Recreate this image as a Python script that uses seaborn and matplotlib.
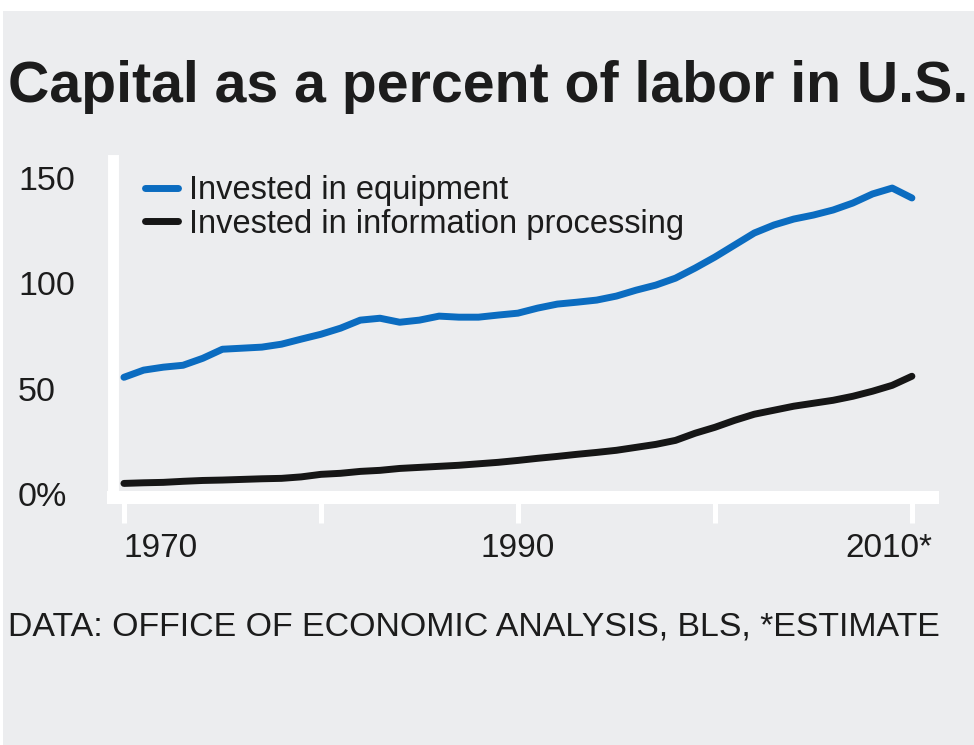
import matplotlib
matplotlib.use("Agg")
import matplotlib.pyplot as plt
import matplotlib.transforms as mtransforms
from matplotlib.patches import Rectangle
from matplotlib.lines import Line2D
import seaborn as sns
import pandas as pd

# ---- data -------------------------------------------------------------
years = list(range(1970, 2011))

equipment = [55.5, 58.9, 60.3, 61.2, 64.5, 68.8, 69.3, 69.8, 71.2, 73.6,
             75.9, 78.8, 82.6, 83.5, 81.6, 82.6, 84.5, 84.0, 84.0, 85.0,
             85.9, 88.3, 90.2, 91.1, 92.1, 94.0, 96.8, 99.2, 102.5, 107.3,
             112.5, 118.2, 123.9, 127.7, 130.5, 132.4, 134.8, 138.1, 142.4, 145.2,
             140.5]

info_processing = [5.2, 5.5, 5.7, 6.2, 6.6, 6.8, 7.1, 7.4, 7.6, 8.3,
                   9.5, 10.0, 10.9, 11.4, 12.3, 12.8, 13.3, 13.8, 14.5, 15.2,
                   16.1, 17.1, 18.0, 19.0, 19.9, 20.9, 22.3, 23.7, 25.6, 29.0,
                   31.8, 35.1, 38.0, 39.9, 41.8, 43.2, 44.6, 46.5, 48.9, 51.7,
                   56.0]

series_names = ["Invested in equipment", "Invested in information processing"]
series_colors = ["#0b6cc0", "#161616"]

x_ticks = [1970, 1980, 1990, 2000, 2010]
x_tick_labels = ["1970", "", "1990", "", "2010*"]
y_ticks = [0, 50, 100, 150]
y_tick_labels = ["0%", "50", "100", "150"]

title_text = "Capital as a percent of labor in U.S."
source_text = "DATA: OFFICE OF ECONOMIC ANALYSIS, BLS, *ESTIMATE"

# ---- styling ----------------------------------------------------------
BG = "#ecedef"
TEXT = "#1c1c1c"

sns.set_style("white")
plt.rcParams["font.family"] = ["Liberation Sans", "DejaVu Sans"]
plt.rcParams["lines.solid_capstyle"] = "round"

W, H = 974, 745
fig = plt.figure(figsize=(W / 100, H / 100), dpi=100)
fig.patch.set_facecolor("white")
fig.add_artist(Rectangle((3 / W, 0), 1, (H - 11) / H, transform=fig.transFigure,
                         facecolor=BG, edgecolor="none", zorder=-10))

left, right, top, bottom = 112.5, 932, 160, 496.5
ax = fig.add_axes([left / W, 1 - bottom / H, (right - left) / W, (bottom - top) / H])
ax.set_facecolor(BG)

df = pd.DataFrame({
    "year": years * 2,
    "value": equipment + info_processing,
    "series": [series_names[0]] * len(years) + [series_names[1]] * len(years),
})

sns.lineplot(data=df, x="year", y="value", hue="series",
             palette=dict(zip(series_names, series_colors)),
             linewidth=5, ax=ax, legend=False, zorder=3)

ax.set_xlim(1969.42, 2011.02)
ax.set_ylim(-1, 158.5)
ax.set_xlabel("")
ax.set_ylabel("")
ax.grid(False)

# spines: thick white left and bottom bars
for side in ("top", "right"):
    ax.spines[side].set_visible(False)
ax.spines["left"].set_color("white")
ax.spines["left"].set_linewidth(7.9)
ax.spines["bottom"].set_color("white")
ax.spines["bottom"].set_linewidth(9.4)
ax.spines["left"].set_zorder(1)
ax.spines["bottom"].set_zorder(1)

# x ticks
ax.set_xticks(x_ticks)
ax.set_xticklabels(x_tick_labels)
ax.tick_params(axis="x", direction="out", length=19, width=3.6, color="white",
               pad=7, labelsize=24, labelcolor=TEXT, bottom=True)
xl = ax.get_xticklabels()
xl[0].set_ha("left")
xl[-1].set_ha("right")
xl[-1].set_transform(xl[-1].get_transform() +
                     mtransforms.ScaledTranslation(20 / 100, 0, fig.dpi_scale_trans))

# y ticks
ax.set_yticks(y_ticks)
ax.set_yticklabels(y_tick_labels)
ax.tick_params(axis="y", length=0, pad=68, labelsize=24.5, labelcolor=TEXT, left=True)
for lab in ax.get_yticklabels():
    lab.set_ha("left")

# legend
handles = [Line2D([], [], color=c, linewidth=5) for c in series_colors]
ax.legend(handles, series_names, loc="upper left",
          bbox_to_anchor=(145 / W, 1 - 175 / H), bbox_transform=fig.transFigure,
          frameon=False, fontsize=23.5, handlelength=1.0, handletextpad=0.35,
          labelspacing=0.08, borderpad=0, borderaxespad=0, labelcolor=TEXT)

# title and source line
fig.text(8 / W, 1 - 102 / H, title_text, fontsize=41.2, fontweight="bold",
         color=TEXT, ha="left", va="baseline")
fig.text(8 / W, 1 - 635 / H, source_text, fontsize=24.4, color=TEXT,
         ha="left", va="baseline")

fig.savefig("out.png", dpi=100, facecolor=fig.get_facecolor())
